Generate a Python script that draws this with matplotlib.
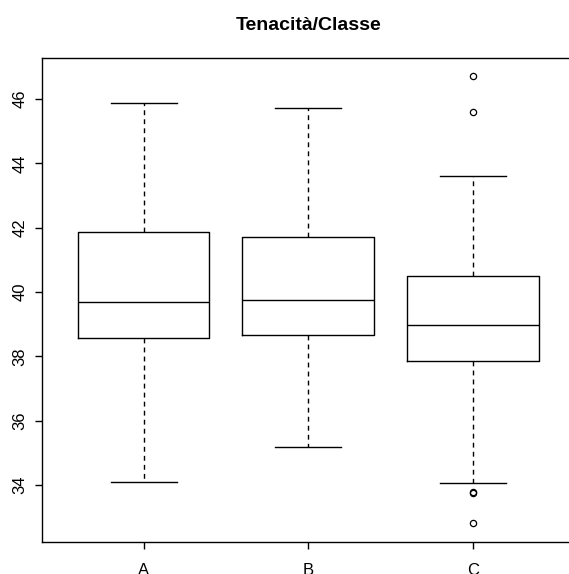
import matplotlib
matplotlib.use("Agg")
import matplotlib.pyplot as plt

plt.rcParams["font.family"] = ["Liberation Sans", "DejaVu Sans"]

# ── Dati ─────────────────────────────────────────────────────────────────────
classi   = ["A", "B", "C"]
whis_lo  = [34.09, 35.19, 34.08]
q1       = [38.58, 38.67, 37.85]
mediana  = [39.70, 39.75, 38.97]
q3       = [41.87, 41.70, 40.51]
whis_hi  = [45.89, 45.71, 43.60]
outliers = [[], [], [46.71, 45.61, 33.79, 33.74, 32.82]]

titolo = "Tenacità/Classe"
y_ticks = [34, 36, 38, 40, 42, 44, 46]

stats = [
    {"label": c, "whislo": lo, "q1": a, "med": m, "q3": b, "whishi": hi, "fliers": f}
    for c, lo, a, m, b, hi, f in zip(classi, whis_lo, q1, mediana, q3, whis_hi, outliers)
]

W, H = 569, 574
fig = plt.figure(figsize=(W / 100, H / 100), dpi=100)
# regione del grafico in pixel: sinistra 41.7, larghezza 533 (esce a destra)
ax = fig.add_axes([41.7 / W, 1 - 541.7 / H, 533 / W, 483.4 / H])

ax.bxp(
    stats,
    positions=[1, 2, 3],
    widths=0.8,
    patch_artist=False,
    boxprops=dict(color="black", linewidth=1.0),
    medianprops=dict(color="black", linewidth=1.0),
    whiskerprops=dict(color="black", linewidth=1.0, linestyle=(0, (3.5, 3))),
    capprops=dict(color="black", linewidth=1.0),
    capwidths=0.4,
    flierprops=dict(marker="o", markerfacecolor="none", markeredgecolor="black",
                    markersize=4.5, markeredgewidth=0.9, linestyle="none"),
)

ax.set_xlim(0.38, 3.62)
ax.set_ylim(32.24, 47.265)
ax.set_xticks([1, 2, 3])
ax.set_xticklabels(classi)
ax.set_yticks(y_ticks)
ax.set_yticklabels([str(t) for t in y_ticks], rotation=90, va="center")

ax.tick_params(axis="both", direction="out", length=5, width=1.0, labelsize=12,
               color="black")
ax.tick_params(axis="x", pad=10)
ax.tick_params(axis="y", pad=5)

for s in ax.spines.values():
    s.set_linewidth(1.0)
    s.set_color("black")

fig.text(0.5 * (41.7 + 574.7) / W, 1 - 26 / H, titolo, ha="center", va="center",
         fontsize=14, fontweight="bold")

fig.savefig("out.png", dpi=100)
